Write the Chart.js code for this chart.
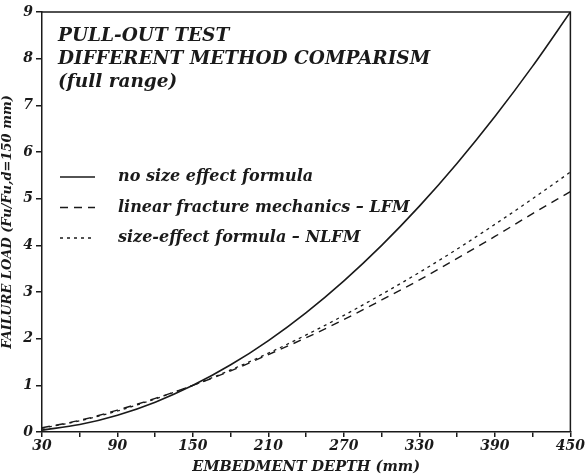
<!DOCTYPE html>
<html>
<head>
<meta charset="utf-8">
<script src="https://cdn.jsdelivr.net/npm/chart.js@4"></script>
<style>
  html, body { margin: 0; padding: 0; background: #fff; }
  #wrap { width: 586px; height: 476px; }
</style>
</head>
<body>
<div id="wrap"><canvas id="lineChart" width="586" height="476"></canvas></div>
<script>
// values
const depth = [30, 60, 90, 120, 150, 180, 210, 240, 270, 300, 330, 360, 390, 420, 450];
const noSizeEffect = [0.04, 0.16, 0.36, 0.64, 1.0, 1.44, 1.96, 2.56, 3.24, 4.0, 4.84, 5.76, 6.76, 7.84, 9.0];
const lfm = [0.09, 0.25, 0.47, 0.72, 1.0, 1.31, 1.66, 2.02, 2.41, 2.83, 3.26, 3.72, 4.19, 4.68, 5.15];
const nlfm = [0.08, 0.24, 0.45, 0.71, 1.0, 1.33, 1.69, 2.08, 2.5, 2.95, 3.42, 3.92, 4.45, 5.0, 5.57];
const xTickLabels = ["30", "90", "150", "210", "270", "330", "390", "450"];
const titleLines = ["PULL-OUT TEST", "DIFFERENT METHOD COMPARISM", "(full range)"];
const seriesNames = ["no size effect formula", "linear fracture mechanics \u2013 LFM", "size-effect formula \u2013 NLFM"];

const ink = "#1a1a1a";
const fontFamily = "'DejaVu Serif', 'Liberation Serif', serif";

function toPoints(ys) {
  return depth.map((d, i) => ({ x: d, y: ys[i] }));
}

const dashes = [[], [8, 6], [3, 4]];

const frameAndNotes = {
  id: "frameAndNotes",
  afterDraw(chart) {
    const ctx = chart.ctx;
    const a = chart.chartArea;
    ctx.save();
    // top and right frame
    ctx.strokeStyle = ink;
    ctx.lineWidth = 1.5;
    ctx.beginPath();
    ctx.moveTo(a.left, a.top);
    ctx.lineTo(a.right, a.top);
    ctx.lineTo(a.right, a.bottom);
    ctx.stroke();

    // heading inside the plot
    ctx.fillStyle = ink;
    ctx.textBaseline = "alphabetic";
    ctx.font = "italic bold 18.5px " + fontFamily;
    titleLines.forEach((t, i) => {
      ctx.fillText(t, a.left + 16, a.top + 29 + i * 23);
    });

    // legend
    ctx.font = "italic bold 16px " + fontFamily;
    ctx.textBaseline = "middle";
    seriesNames.forEach((name, i) => {
      const y = a.top + 165 + i * 30.5;
      ctx.setLineDash(dashes[i]);
      ctx.lineWidth = 1.3;
      ctx.beginPath();
      ctx.moveTo(a.left + 18, y);
      ctx.lineTo(a.left + 53, y);
      ctx.stroke();
      ctx.setLineDash([]);
      ctx.fillText(name, a.left + 76, y);
    });
    ctx.restore();
  }
};

const ctx = document.getElementById("lineChart").getContext("2d");
const lineChart = new Chart(ctx, {
  type: "line",
  data: {
    datasets: [
      { label: seriesNames[0], data: toPoints(noSizeEffect), borderDash: dashes[0], borderWidth: 1.6 },
      { label: seriesNames[1], data: toPoints(lfm), borderDash: dashes[1], borderWidth: 1.4 },
      { label: seriesNames[2], data: toPoints(nlfm), borderDash: dashes[2], borderWidth: 1.3 },
    ].map(ds => Object.assign(ds, {
      borderColor: ink,
      pointRadius: 0,
      fill: false,
      cubicInterpolationMode: "monotone",
    })),
  },
  options: {
    responsive: false,
    animation: false,
    layout: { padding: { top: 12, right: 13, left: 0, bottom: 0 } },
    plugins: {
      legend: { display: false },
      tooltip: { enabled: false },
    },
    scales: {
      x: {
        type: "linear",
        min: 30,
        max: 450,
        afterFit(scale) { scale.height = 44; },
        grid: { display: true, drawOnChartArea: false, tickLength: 5, color: ink, lineWidth: 1.5 },
        border: { color: ink, width: 1.5 },
        ticks: {
          stepSize: 30,
          padding: 1,
          color: ink,
          maxRotation: 0,
          autoSkip: false,
          font: { family: fontFamily, size: 14, weight: "bold", style: "italic" },
          callback: v => xTickLabels.includes(String(v)) ? String(v) : "",
        },
        title: {
          display: true,
          text: "EMBEDMENT DEPTH (mm)",
          color: ink,
          padding: { top: 0, bottom: 0 },
          font: { family: fontFamily, size: 14.5, weight: "bold", style: "italic" },
        },
      },
      y: {
        min: 0,
        max: 9,
        afterFit(scale) { scale.width = 42; },
        grid: { display: true, drawOnChartArea: false, tickLength: 6, color: ink, lineWidth: 1.5 },
        border: { color: ink, width: 1.5 },
        ticks: {
          stepSize: 1,
          padding: 3,
          color: ink,
          font: { family: fontFamily, size: 14, weight: "bold", style: "italic" },
        },
        title: {
          display: true,
          text: "FAILURE LOAD (Fu/Fu,d=150 mm)",
          color: ink,
          padding: { top: 0, bottom: 0 },
          font: { family: fontFamily, size: 13, weight: "bold", style: "italic" },
        },
      },
    },
  },
  plugins: [frameAndNotes],
});
</script>
</body>
</html>
